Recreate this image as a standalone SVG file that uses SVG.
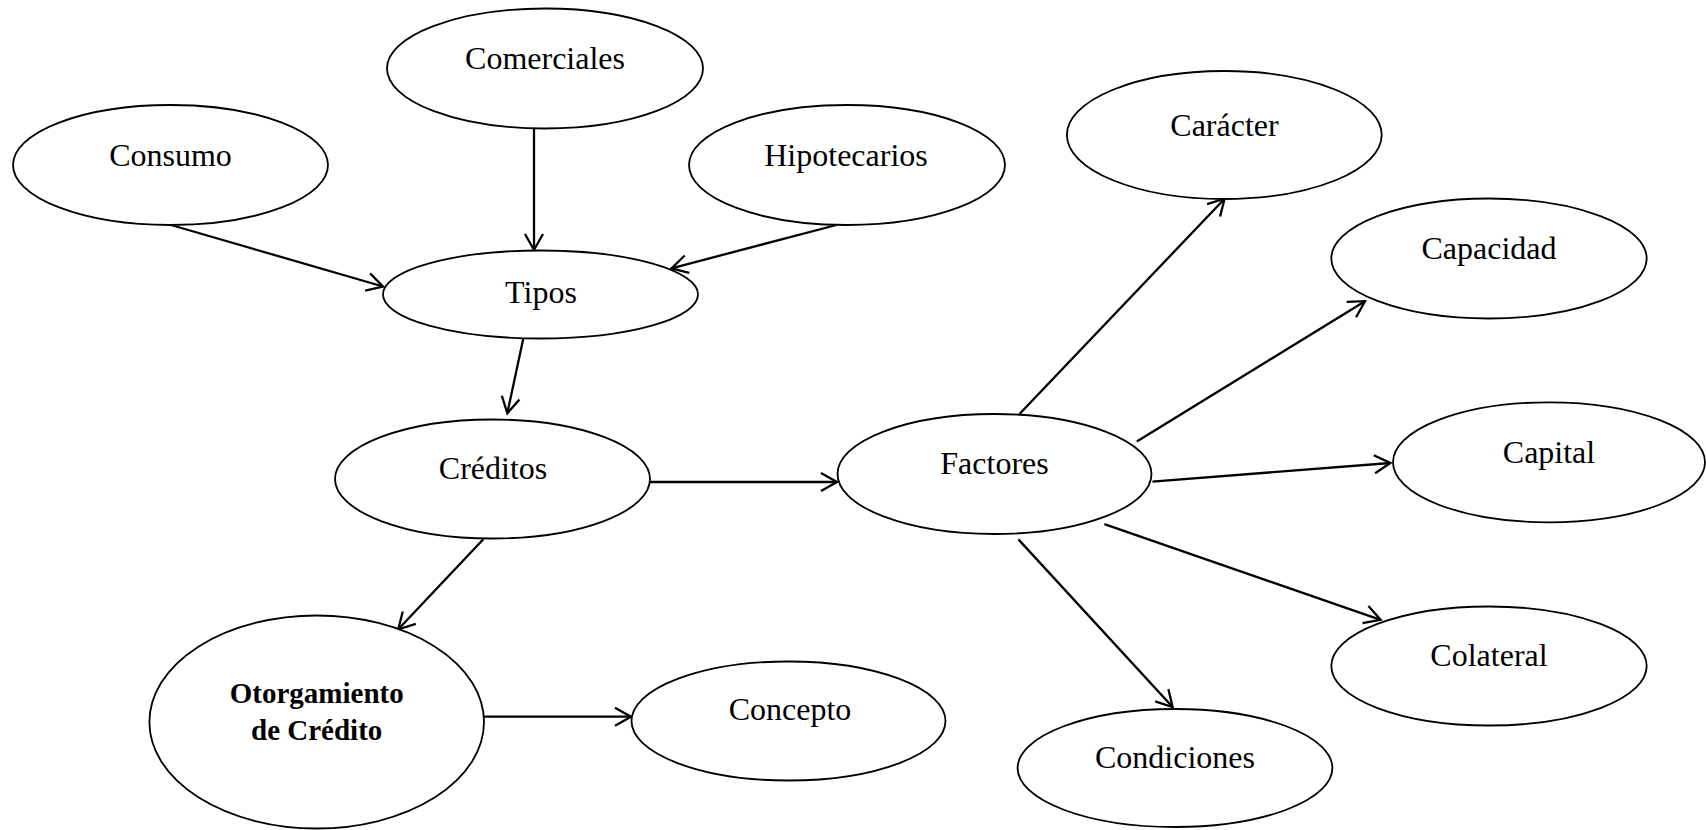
<svg xmlns="http://www.w3.org/2000/svg" width="1706" height="830" viewBox="0 0 1706 830">
<style>
.n{fill:#fff;stroke:#000;stroke-width:1.8}
.t{font-family:"Liberation Serif","Times New Roman",serif;font-size:32px;fill:#000;text-anchor:middle}
.b{font-family:"Liberation Serif","Times New Roman",serif;font-size:29px;font-weight:bold;fill:#000;text-anchor:middle}
.c line{stroke:#000;stroke-width:2.3;marker-end:url(#a)}
</style>
<defs>
<marker id="a" markerUnits="userSpaceOnUse" markerWidth="24" markerHeight="24" viewBox="-20 -12 24 24" refX="0" refY="0" orient="auto" overflow="visible">
<path d="M-16,-9 L0,0 L-16,9" fill="none" stroke="#000" stroke-width="2.3"/>
</marker>
</defs>
<rect width="1706" height="830" fill="#fff"/>
<g id="connectors" class="c">
<line x1="171" y1="225" x2="383" y2="286.5"/>
<line x1="534" y1="128.5" x2="534" y2="250"/>
<line x1="836.5" y1="225" x2="671.5" y2="268.3"/>
<line x1="523.3" y1="338.5" x2="507.3" y2="413.3"/>
<line x1="650" y1="482" x2="837" y2="482"/>
<line x1="483.3" y1="539.3" x2="398.3" y2="629.3"/>
<line x1="483" y1="716.7" x2="631" y2="716.7"/>
<line x1="1019.5" y1="414" x2="1224.6" y2="198.7"/>
<line x1="1136.8" y1="441.4" x2="1365" y2="301.2"/>
<line x1="1152.4" y1="481.6" x2="1390.4" y2="463"/>
<line x1="1104.4" y1="524.2" x2="1380.6" y2="619.8"/>
<line x1="1018.4" y1="539.4" x2="1172.6" y2="707"/>
</g>
<g id="consumo"><ellipse class="n" cx="170.5" cy="165" rx="157.5" ry="60"/><text class="t" x="170.5" y="165.5">Consumo</text></g>
<g id="comerciales"><ellipse class="n" cx="545" cy="68.5" rx="158" ry="60"/><text class="t" x="545" y="69">Comerciales</text></g>
<g id="hipotecarios"><ellipse class="n" cx="847" cy="165" rx="158" ry="60"/><text class="t" x="846" y="165.5">Hipotecarios</text></g>
<g id="tipos"><ellipse class="n" cx="540.5" cy="294.5" rx="157.5" ry="44"/><text class="t" x="541" y="302.7">Tipos</text></g>
<g id="creditos"><ellipse class="n" cx="492.5" cy="479" rx="157.5" ry="59.5"/><text class="t" x="493" y="478.5">Créditos</text></g>
<g id="factores"><ellipse class="n" cx="994.5" cy="474" rx="157" ry="60"/><text class="t" x="994.5" y="473.5">Factores</text></g>
<g id="otorgamiento"><ellipse class="n" cx="316.7" cy="722" rx="167.3" ry="106.5"/><text class="b" x="316.7" y="702.7">Otorgamiento</text><text class="b" x="316.7" y="740">de Crédito</text></g>
<g id="concepto"><ellipse class="n" cx="788.5" cy="721" rx="157" ry="59.5"/><text class="t" x="790" y="720">Concepto</text></g>
<g id="caracter"><ellipse class="n" cx="1224.3" cy="135" rx="157.4" ry="64"/><text class="t" x="1224.5" y="136">Carácter</text></g>
<g id="capacidad"><ellipse class="n" cx="1489" cy="258.5" rx="157.7" ry="60"/><text class="t" x="1489" y="258.5">Capacidad</text></g>
<g id="capital"><ellipse class="n" cx="1549" cy="462.3" rx="156" ry="60"/><text class="t" x="1549" y="462.7">Capital</text></g>
<g id="colateral"><ellipse class="n" cx="1489" cy="666" rx="157.7" ry="59.5"/><text class="t" x="1489" y="666">Colateral</text></g>
<g id="condiciones"><ellipse class="n" cx="1175" cy="768" rx="157.4" ry="59"/><text class="t" x="1175" y="768">Condiciones</text></g>
</svg>
